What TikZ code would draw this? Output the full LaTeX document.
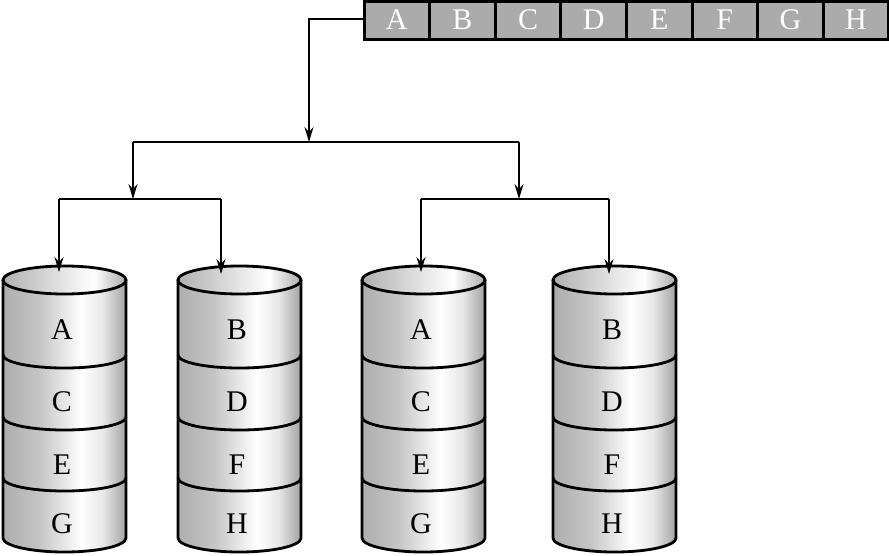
\documentclass[tikz,border=0pt]{standalone}
\usepackage{fontspec}
\setmainfont{Liberation Serif}
\usetikzlibrary{arrows.meta}
\definecolor{cylL}{gray}{0.68}
\definecolor{cylR}{gray}{0.64}
\definecolor{barfill}{gray}{0.67}
\pgfdeclarehorizontalshading{cylshade}{100bp}{color(0bp)=(cylL); color(25bp)=(cylL); color(40bp)=(gray!45); color(57bp)=(white); color(66bp)=(gray!20); color(75bp)=(cylR); color(100bp)=(cylR)}
\pgfdeclarehorizontalshading{topshade}{100bp}{color(0bp)=(cylL); color(25bp)=(gray!62); color(62bp)=(white); color(75bp)=(gray!65); color(100bp)=(gray!65)}
\tikzset{
  conn/.style={line width=1.4pt},
  arr/.style={conn,-{Stealth[length=15pt,width=9pt,inset=5pt]}},
  cell/.style={draw=black,line width=3pt,fill=barfill,text=white,minimum width=65.6pt,minimum height=38pt,inner sep=0pt,font=\fontsize{30}{31}\selectfont},
  cylline/.style={line width=2.8pt},
  lbl/.style={font=\fontsize{30}{31}\selectfont,inner sep=0pt}
}
\newcommand{\mycyl}[6]{%
  \begin{scope}[shift={(#1,0)}]
    \shade[shading=cylshade] (0,-280) -- (0,-538) arc[start angle=180,end angle=360,x radius=61.5,y radius=14] -- (123,-280) arc[start angle=0,end angle=180,x radius=61.5,y radius=14] -- cycle;
    \shade[shading=topshade] (61.5,-280) ellipse[x radius=61.5,y radius=14];
    \draw[cylline] (61.5,-280) ellipse[x radius=61.5,y radius=14];
    \draw[cylline] (0,-280) -- (0,-538) arc[start angle=180,end angle=360,x radius=61.5,y radius=14] -- (123,-280);
    \draw[cylline] (0,-355) arc[start angle=180,end angle=360,x radius=61.5,y radius=13];
    \draw[cylline] (0,-417) arc[start angle=180,end angle=360,x radius=61.5,y radius=13];
    \draw[cylline] (0,-478) arc[start angle=180,end angle=360,x radius=61.5,y radius=13];
    \node[lbl] (#2a) at (59,-330) {#3};
    \node[lbl] (#2b) at (59,-402) {#4};
    \node[lbl] (#2c) at (59,-465) {#5};
    \node[lbl] (#2d) at (59,-524) {#6};
  \end{scope}}
\begin{document}
\begin{tikzpicture}[x=1pt,y=1pt]
\useasboundingbox (0,-555) rectangle (889,0);
% cylinders
\mycyl{3}{cyla}{A}{C}{E}{G}
\mycyl{178}{cylb}{B}{D}{F}{H}
\mycyl{362}{cylc}{A}{C}{E}{G}
\mycyl{553}{cyld}{B}{D}{F}{H}
% bar
\foreach \t [count=\i from 0] in {A,B,C,D,E,F,G,H}
  \node[cell] (bar\i) at (364+32.8+65.6*\i,-20) {\t};
% junctions
\coordinate (j0) at (309,-142);
\coordinate (j0l) at (133,-142);
\coordinate (j0r) at (519,-142);
\coordinate (j1) at (133,-199);
\coordinate (j1l) at (59,-199);
\coordinate (j1r) at (221,-199);
\coordinate (j2) at (519,-199);
\coordinate (j2l) at (421,-199);
\coordinate (j2r) at (609,-199);
\coordinate (t1) at (59,-272);
\coordinate (t2) at (221,-274);
\coordinate (t3) at (421,-272);
\coordinate (t4) at (609,-274);
% connectors
\draw[arr] (bar0.west |- 0,-19) -| (j0);
\draw[conn] (j0l) -- (j0r);
\draw[arr] (j0l) -- (j1);
\draw[arr] (j0r) -- (j2);
\draw[conn] (j1l) -- (j1r);
\draw[conn] (j2l) -- (j2r);
\draw[arr] (j1l) -- (t1);
\draw[arr] (j1r) -- (t2);
\draw[arr] (j2l) -- (t3);
\draw[arr] (j2r) -- (t4);
\end{tikzpicture}
\end{document}
